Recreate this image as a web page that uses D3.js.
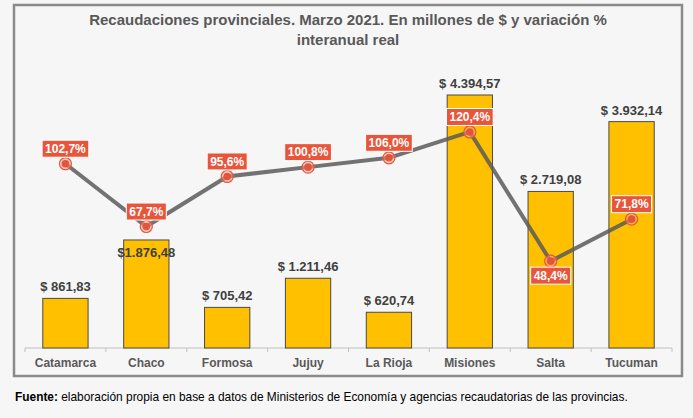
<!DOCTYPE html>
<html><head><meta charset="utf-8">
<script src="https://cdn.jsdelivr.net/npm/d3@7"></script>
<style>
html,body{margin:0;padding:0;background:#f6f6f6;}
svg{display:block;font-family:"Liberation Sans",Arial,sans-serif;}
</style></head>
<body>
<svg id="chart" width="693" height="418"></svg>
<script>
const categories = ["Catamarca","Chaco","Formosa","Jujuy","La Rioja","Misiones","Salta","Tucuman"];
const recaudacion = [861.83, 1876.48, 705.42, 1211.46, 620.74, 4394.57, 2719.08, 3932.14];
const recaudacionLabels = ["$ 861,83","$1.876,48","$ 705,42","$ 1.211,46","$ 620,74","$ 4.394,57","$ 2.719,08","$ 3.932,14"];
const variacion = [102.7, 67.7, 95.6, 100.8, 106.0, 120.4, 48.4, 71.8];
const variacionLabels = ["102,7%","67,7%","95,6%","100,8%","106,0%","120,4%","48,4%","71,8%"];
const titleLines = ["Recaudaciones provinciales. Marzo 2021. En millones de $ y variación %","interanual real"];
const sourceBold = "Fuente:";
const sourceText = " elaboración propia en base a datos de Ministerios de Economía y agencias recaudatorias de las provincias.";

const svg = d3.select("#chart");
const data = categories.map((c,i)=>({c, v:recaudacion[i], vl:recaudacionLabels[i], p:variacion[i], pl:variacionLabels[i]}));

// frame
svg.append("rect").attr("x",14).attr("y",5).attr("width",668).attr("height",371)
  .attr("fill","#f6f6f6").attr("stroke","#8a8a8a").attr("stroke-width",2.5);

// title
svg.append("g").selectAll("text").data(titleLines).join("text")
  .attr("x",348).attr("y",(d,i)=>25+i*20).attr("text-anchor","middle")
  .attr("font-size",15).attr("font-weight","bold").attr("fill","#595959").text(d=>d);

const x = d3.scaleBand().domain(categories).range([25,672]).paddingInner(0.44).paddingOuter(0.22);
const xb = d3.scaleBand().domain(categories).range([25,672]);
const y = d3.scaleLinear().domain([0,4394.57]).range([348,95]);
const y2 = d3.scaleLinear().domain([0,141]).range([348,95]);

// axis
const ax = svg.append("g").attr("transform","translate(0,348)");
ax.append("line").attr("x1",25).attr("x2",672).attr("stroke","#c0c0c0").attr("stroke-width",1);
const tickXs = categories.map(c=>xb(c)).concat([xb.range()[1]]);
ax.selectAll("line.t").data(tickXs).join("line").attr("class","t")
  .attr("x1",d=>d).attr("x2",d=>d).attr("y1",0).attr("y2",4).attr("stroke","#c0c0c0");
ax.selectAll("text").data(categories).join("text")
  .attr("x",d=>xb(d)+xb.bandwidth()/2).attr("y",19).attr("text-anchor","middle")
  .attr("font-size",12).attr("font-weight","bold").attr("fill","#595959").text(d=>d);

// bars
svg.append("g").selectAll("rect").data(data).join("rect")
  .attr("x",d=>x(d.c)).attr("width",x.bandwidth())
  .attr("y",d=>y(d.v)).attr("height",d=>348-y(d.v))
  .attr("fill","#ffc000").attr("stroke","#4a4a4a").attr("stroke-width",1);

// line
const cx = d=>xb(d.c)+xb.bandwidth()/2;
svg.append("path").datum(data)
  .attr("d",d3.line().x(cx).y(d=>y2(d.p)))
  .attr("fill","none").attr("stroke","#5a5a5a").attr("stroke-opacity",0.85).attr("stroke-width",4);

// bar labels
svg.append("g").selectAll("text").data(data).join("text")
  .attr("x",cx)
  .attr("y",d=>{const top=y(d.v), py=y2(d.p); return (py>top-28 && py<top) ? top+17 : top-7;})
  .attr("text-anchor","middle").attr("font-size",13).attr("font-weight","bold").attr("fill","#404040")
  .text(d=>d.vl);

// markers
const mk = svg.append("g");
mk.selectAll("circle.o").data(data).join("circle").attr("class","o")
  .attr("cx",cx).attr("cy",d=>y2(d.p)).attr("r",6).attr("fill","#f4a392").attr("fill-opacity",0.5)
  .attr("stroke","#e8553b").attr("stroke-width",1.2);
mk.selectAll("circle.i").data(data).join("circle").attr("class","i")
  .attr("cx",cx).attr("cy",d=>y2(d.p)).attr("r",3.8).attr("fill","#e2553c");

// percent labels
const lg = svg.append("g").selectAll("g").data(data).join("g")
  .attr("transform",(d,i)=>{
    const py=y2(d.p);
    const below = i>0 && i<data.length-1 && d.p<data[i-1].p && d.p<data[i+1].p && (data[i-1].p-d.p)>40;
    return `translate(${cx(d)},${below? py+6+8.5 : py-6.5-8.5})`;
  });
lg.append("text").attr("text-anchor","middle").attr("dy","0.36em")
  .attr("font-size",12).attr("font-weight","bold").attr("fill","#ffffff").text(d=>d.pl)
  .each(function(){
    const w=this.getComputedTextLength()+6;
    d3.select(this.parentNode).insert("rect","text").attr("x",-w/2).attr("y",-8.5).attr("width",w).attr("height",17)
      .attr("fill","#e8553b").attr("stroke","#ffffff").attr("stroke-width",1);
  });

// source
const st = svg.append("text").attr("x",15).attr("y",401).attr("font-size",11.9).attr("fill","#000");
st.append("tspan").attr("font-weight","bold").text(sourceBold);
st.append("tspan").text(sourceText);
</script>
</body></html>
